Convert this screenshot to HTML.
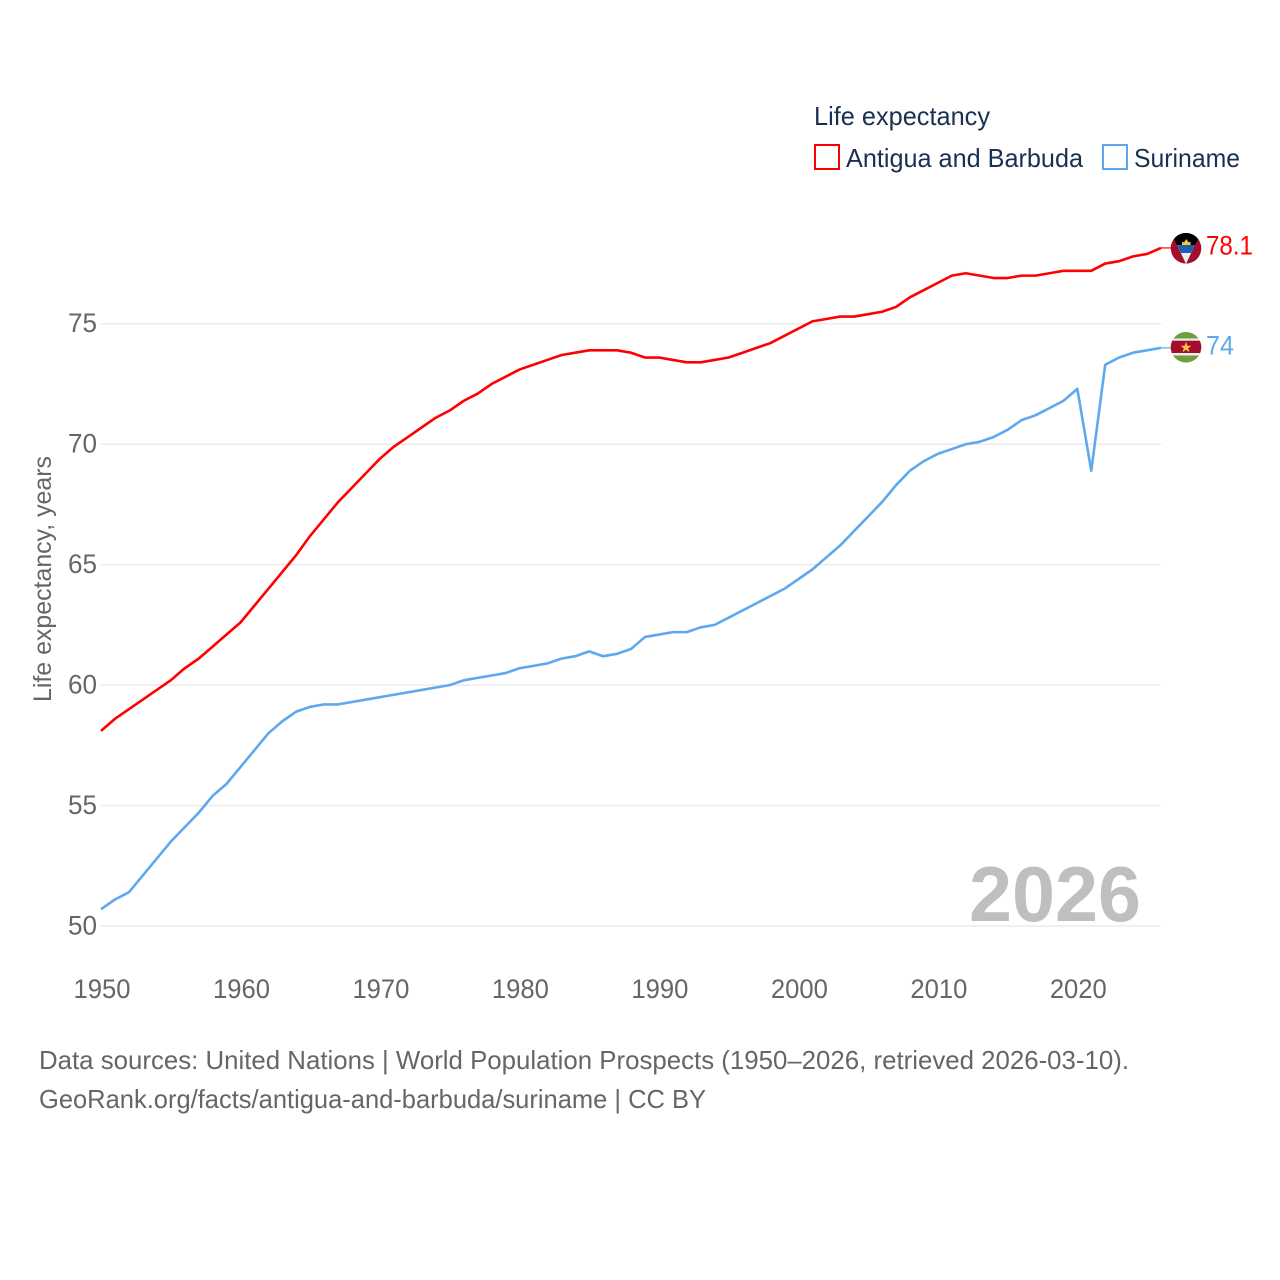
<!DOCTYPE html>
<html>
<head>
<meta charset="utf-8">
<title>Life expectancy: Antigua and Barbuda vs Suriname</title>
<style>
html,body{margin:0;padding:0;background:#fff;}
svg{display:block;font-family:"Liberation Sans",sans-serif;}
</style>
</head>
<body>
<svg id="chart" xmlns="http://www.w3.org/2000/svg" width="1280" height="1280" viewBox="0 0 1280 1280">
  <defs>
    <clipPath id="clip-a"><circle cx="1186" cy="248.3" r="15.3"/></clipPath>
    <clipPath id="clip-s"><circle cx="1186" cy="347.3" r="15.3"/></clipPath>
  </defs>
  <rect width="1280" height="1280" fill="#fff"/>
  <g id="grid"></g>
  <g id="yticks"></g>
  <g id="xticks"></g>
  <text transform="translate(51,702) rotate(-90)" font-size="25" fill="#666" textLength="246" lengthAdjust="spacingAndGlyphs">Life expectancy, years</text>

  <text x="969" y="921" font-size="78" font-weight="bold" fill="#bfbfbf" textLength="172" lengthAdjust="spacingAndGlyphs">2026</text>

  <g id="series"></g>

  <g clip-path="url(#clip-a)">
    <rect x="1170" y="232" width="32" height="33" fill="#a50d2d"/>
    <polygon points="1171,233 1201,233 1186,264" fill="#000"/>
    <polygon points="1177,245 1195,245 1186,264" fill="#eee"/>
    <polygon points="1177,245 1195,245 1191,253 1181,253" fill="#1a60ad"/>
    <polygon points="1182,245 1190.5,245 1190.5,241.5 1188.7,242.5 1186.2,239 1184,242.5 1182,241.5" fill="#f6c544"/>
  </g>
  <g clip-path="url(#clip-s)">
    <rect x="1170" y="331" width="32" height="33" fill="#6e9d42"/>
    <rect x="1170" y="338.5" width="32" height="17" fill="#eee"/>
    <rect x="1170" y="340.7" width="32" height="12.3" fill="#a50d2d"/>
    <polygon points="1186,341.8 1187.4,345.8 1191.4,345.8 1188.2,348.2 1189.4,352.2 1186,349.8 1182.6,352.2 1183.8,348.2 1180.6,345.8 1184.6,345.8" fill="#f6c544"/>
  </g>
  <g id="endlabels"></g>

  <g>
    <text x="814" y="125" font-size="26" fill="#1a3053" textLength="176" lengthAdjust="spacingAndGlyphs">Life expectancy</text>
    <g>
      <rect x="815" y="145" width="24" height="24" fill="none" stroke="#ff0000" stroke-width="2"/>
      <text x="846" y="167" font-size="26" fill="#1a3053" textLength="237" lengthAdjust="spacingAndGlyphs">Antigua and Barbuda</text>
    </g>
    <g>
      <rect x="1103" y="145" width="24" height="24" fill="none" stroke="#5ea8ee" stroke-width="2"/>
      <text x="1134" y="167" font-size="26" fill="#1a3053" textLength="106" lengthAdjust="spacingAndGlyphs">Suriname</text>
    </g>
  </g>

  <text x="39" y="1069" font-size="26" fill="#666" textLength="1090" lengthAdjust="spacingAndGlyphs">Data sources: United Nations | World Population Prospects (1950–2026, retrieved 2026-03-10).</text>
  <text x="39" y="1108" font-size="26" fill="#666" textLength="667" lengthAdjust="spacingAndGlyphs">GeoRank.org/facts/antigua-and-barbuda/suriname | CC BY</text>
</svg>
<script>
const startYear = 1950;
const xTickLabels = [1950,1960,1970,1980,1990,2000,2010,2020];
const yTickLabels = [50,55,60,65,70,75];
const antiguaValues = [58.1,58.6,59.0,59.4,59.8,60.2,60.7,61.1,61.6,62.1,62.6,63.3,64.0,64.7,65.4,66.2,66.9,67.6,68.2,68.8,69.4,69.9,70.3,70.7,71.1,71.4,71.8,72.1,72.5,72.8,73.1,73.3,73.5,73.7,73.8,73.9,73.9,73.9,73.8,73.6,73.6,73.5,73.4,73.4,73.5,73.6,73.8,74.0,74.2,74.5,74.8,75.1,75.2,75.3,75.3,75.4,75.5,75.7,76.1,76.4,76.7,77.0,77.1,77.0,76.9,76.9,77.0,77.0,77.1,77.2,77.2,77.2,77.5,77.6,77.8,77.9,78.15];
const surinameValues = [50.7,51.1,51.4,52.1,52.8,53.5,54.1,54.7,55.4,55.9,56.6,57.3,58.0,58.5,58.9,59.1,59.2,59.2,59.3,59.4,59.5,59.6,59.7,59.8,59.9,60.0,60.2,60.3,60.4,60.5,60.7,60.8,60.9,61.1,61.2,61.4,61.2,61.3,61.5,62.0,62.1,62.2,62.2,62.4,62.5,62.8,63.1,63.4,63.7,64.0,64.4,64.8,65.3,65.8,66.4,67.0,67.6,68.3,68.9,69.3,69.6,69.8,70.0,70.1,70.3,70.6,71.0,71.2,71.5,71.8,72.3,68.9,73.3,73.6,73.8,73.9,74.0];
const endLabels = ["78.1","74"];

const NS = "http://www.w3.org/2000/svg";
function xScale(year){ return 101 + (year - 1950) * (1161 - 101) / 76; }
function yScale(v){ return 926 - (v - 50) * (926 - 323.8) / 25; }
function make(tag, parent, attrs, text){
  const el = document.createElementNS(NS, tag);
  for (const k in attrs) el.setAttribute(k, attrs[k]);
  if (text !== undefined) el.textContent = text;
  parent.appendChild(el);
  return el;
}

const grid = document.getElementById('grid');
const yticks = document.getElementById('yticks');
const xticks = document.getElementById('xticks');
const series = document.getElementById('series');
const endlabels = document.getElementById('endlabels');

yTickLabels.forEach(function(v){
  const y = yScale(v);
  const line = make('line', grid, {x1:101, x2:1161, y1:y, y2:y, stroke:'#ebebeb', 'stroke-width':1.5});
  
  
  const t = make('text', yticks, {x:97, y:yScale(v)+8.3, 'font-size':27, fill:'#666', 'text-anchor':'end', textLength:29, lengthAdjust:'spacingAndGlyphs'}, String(v));
  
  
});

xTickLabels.forEach(function(year){
  const t = make('text', xticks, {x:xScale(year)+1, y:998, 'font-size':27, fill:'#666', 'text-anchor':'middle', textLength:57, lengthAdjust:'spacingAndGlyphs'}, String(year));
  
  
});

function drawSeries(values, color, labelText, lineName, labelName){
  const pts = values.map(function(v, i){
    return xScale(startYear + i).toFixed(2) + ',' + yScale(v).toFixed(2);
  }).join(' ');
  const line = make('polyline', series, {points:pts, fill:'none', stroke:color, 'stroke-width':2.6, 'stroke-linejoin':'round'});
  
  
  const last = values[values.length - 1];
  const lastX = xScale(startYear + values.length - 1);
  const conn = make('line', series, {x1:lastX, x2:lastX + 10, y1:yScale(last), y2:yScale(last), stroke:color, 'stroke-width':1.2});
  
  
  const w = labelText.length > 2 ? 47 : 28;
  const t = make('text', endlabels, {x:1206, y:yScale(last)+6.5, 'font-size':27, fill:color, textLength:w, lengthAdjust:'spacingAndGlyphs'}, labelText);
  
  
}
drawSeries(antiguaValues, '#ff0000', endLabels[0], 'antigua-line', 'antigua-end-value');
drawSeries(surinameValues, '#5ea8ee', endLabels[1], 'suriname-line', 'suriname-end-value');
</script>
</body>
</html>
